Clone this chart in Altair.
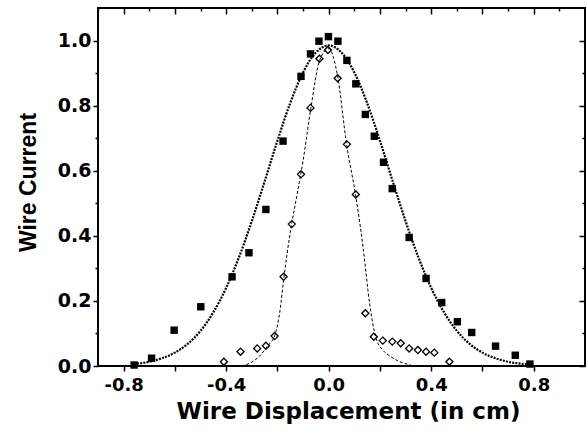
import altair as alt
import pandas as pd

# Filled squares (wide beam profile)
sq_x = [-0.759, -0.691, -0.603, -0.499, -0.377, -0.311, -0.245, -0.178, -0.108, -0.071, -0.038,
        -0.001, 0.036, 0.071, 0.106, 0.143, 0.178, 0.214, 0.248, 0.314, 0.380, 0.441, 0.502,
        0.558, 0.651, 0.728, 0.785]
sq_y = [0.003, 0.024, 0.110, 0.182, 0.274, 0.348, 0.481, 0.691, 0.890, 0.959, 0.998,
        1.012, 0.998, 0.939, 0.867, 0.773, 0.706, 0.626, 0.545, 0.395, 0.269, 0.195, 0.136,
        0.103, 0.061, 0.033, 0.006]

# Open diamonds (narrow beam profile)
di_x = [-0.409, -0.344, -0.279, -0.245, -0.211, -0.176, -0.144, -0.108, -0.071, -0.036, -0.003,
        0.035, 0.071, 0.106, 0.143, 0.176, 0.211, 0.248, 0.281, 0.314, 0.348, 0.380, 0.412, 0.471]
di_y = [0.013, 0.044, 0.054, 0.062, 0.092, 0.274, 0.436, 0.589, 0.793, 0.944, 0.971,
        0.884, 0.681, 0.527, 0.162, 0.090, 0.078, 0.075, 0.070, 0.054, 0.049, 0.044, 0.041, 0.013]

# Wide fit curve
wide_x = [-0.76, -0.70, -0.65, -0.60, -0.55, -0.50, -0.45, -0.40, -0.35, -0.30, -0.25, -0.20,
          -0.15, -0.10, -0.05, 0.00, 0.05, 0.10, 0.15, 0.20, 0.25, 0.30, 0.35, 0.40, 0.45,
          0.50, 0.55, 0.60, 0.65, 0.70, 0.75, 0.79]
wide_y = [0.006, 0.013, 0.024, 0.041, 0.068, 0.108, 0.165, 0.240, 0.334, 0.445, 0.567, 0.692,
          0.808, 0.902, 0.963, 0.985, 0.963, 0.902, 0.808, 0.692, 0.567, 0.445, 0.334, 0.240,
          0.165, 0.108, 0.068, 0.041, 0.024, 0.013, 0.007, 0.004]

# Narrow fit curve
nar_x = [-0.34, -0.30, -0.27, -0.24, -0.21, -0.19, -0.175, -0.15, -0.125, -0.10, -0.07, -0.035,
         0.0, 0.035, 0.07, 0.105, 0.135, 0.16, 0.185, 0.21, 0.24, 0.27, 0.32]
nar_y = [0.0, 0.012, 0.03, 0.06, 0.095, 0.17, 0.27, 0.41, 0.52, 0.63, 0.79, 0.94,
         0.975, 0.89, 0.68, 0.525, 0.36, 0.19, 0.085, 0.05, 0.03, 0.016, 0.003]

x_major = [-0.8, -0.6, -0.4, -0.2, 0.0, 0.2, 0.4, 0.6, 0.8]
x_minor = [-0.9, -0.7, -0.5, -0.3, -0.1, 0.1, 0.3, 0.5, 0.7, 0.9]
y_major = [0.0, 0.2, 0.4, 0.6, 0.8, 1.0]
y_minor = [0.1, 0.3, 0.5, 0.7, 0.9]

X_DOM = [-0.9, 1.0]
Y_DOM = [0.0, 1.1]

sq = pd.DataFrame({"x": sq_x, "y": sq_y})
di = pd.DataFrame({"x": di_x, "y": di_y})
wd = pd.DataFrame({"x": wide_x, "y": wide_y})
nr = pd.DataFrame({"x": nar_x, "y": nar_y})

TICK_FONT = "DejaVu Sans"

def xs(axis):
    return alt.X("x:Q", scale=alt.Scale(domain=X_DOM, nice=False, zero=False), axis=axis)

def ys(axis):
    return alt.Y("y:Q", scale=alt.Scale(domain=Y_DOM, nice=False, zero=False), axis=axis)

bottom_axis = alt.Axis(
    orient="bottom", values=x_major, tickSize=5, tickWidth=1.5, tickColor="black",
    domain=False, grid=False, labelPadding=5, labelFont=TICK_FONT, labelFontSize=18,
    labelFontWeight="bold", labelColor="black",
    labelExpr="abs(round(datum.value*10)) % 4 == 0 ? (datum.value < -0.01 ? '-' + format(abs(datum.value), '.1f') : format(abs(datum.value), '.1f')) : ''",
    title="Wire Displacement (in cm)", titleFont="DejaVu Sans", titleFontSize=23,
    titleFontWeight="bold", titleColor="black", titleX=250, titleY=52,
    titleBaseline="alphabetic", titleAlign="center", labelFlush=False, labelOverlap=False,
)
left_axis = alt.Axis(
    orient="left", values=y_major, tickSize=5, tickWidth=1.5, tickColor="black",
    domain=False, grid=False, labelPadding=2, labelFont=TICK_FONT, labelFontSize=19,
    labelFontWeight="bold", labelColor="black", format=".1f",
    title="Wire Current", titleFont="Liberation Sans", titleFontSize=23,
    titleFontWeight="bold", titleColor="black", titleX=-70, titleY=174,
    titleBaseline="middle", titleAlign="center", titleAngle=270, labelFlush=False,
    labelOverlap=False,
)
left_minor = alt.Axis(orient="left", values=y_minor, tickSize=3, tickWidth=1.5,
                      tickColor="black", domain=False, grid=False, labels=False, title=None)
top_major = alt.Axis(orient="top", values=x_major, tickSize=6, offset=-6, tickWidth=1.5,
                     tickColor="black", domain=False, grid=False, labels=False, title=None)
top_minor = alt.Axis(orient="top", values=x_minor, tickSize=3, offset=-3, tickWidth=1.5,
                     tickColor="black", domain=False, grid=False, labels=False, title=None)
right_major = alt.Axis(orient="right", values=y_major, tickSize=6, offset=-6, tickWidth=1.5,
                       tickColor="black", domain=False, grid=False, labels=False, title=None)
right_minor = alt.Axis(orient="right", values=y_minor, tickSize=3, offset=-3, tickWidth=1.5,
                       tickColor="black", domain=False, grid=False, labels=False, title=None)

wide_line = alt.Chart(wd).mark_line(
    color="black", strokeWidth=2.2, strokeDash=[2, 1.2], interpolate="monotone"
).encode(x=xs(top_minor), y=ys(right_major))

narrow_line = alt.Chart(nr).mark_line(
    color="black", strokeWidth=1, strokeDash=[3, 2], interpolate="monotone"
).encode(x=xs(None), y=ys(right_minor))

squares = alt.Chart(sq).mark_point(
    shape="square", filled=True, color="black", size=55, opacity=1
).encode(x=xs(bottom_axis), y=ys(left_axis))

diamonds = alt.Chart(di).mark_point(
    shape="diamond", filled=True, fill="white", stroke="black", strokeWidth=1.3,
    size=50, opacity=1
).encode(x=xs(top_major), y=ys(left_minor))

chart = alt.layer(squares, diamonds, wide_line, narrow_line).resolve_scale(
    x="independent", y="independent"
).properties(
    width=487, height=358,
    padding={"left": 98, "top": 8, "right": 3, "bottom": 73},
    autosize=alt.AutoSizeParams(type="none"),
    background="white",
).configure_view(stroke="black", strokeWidth=2)

chart.save("out.html", embed_options={"renderer": "svg", "actions": False})
